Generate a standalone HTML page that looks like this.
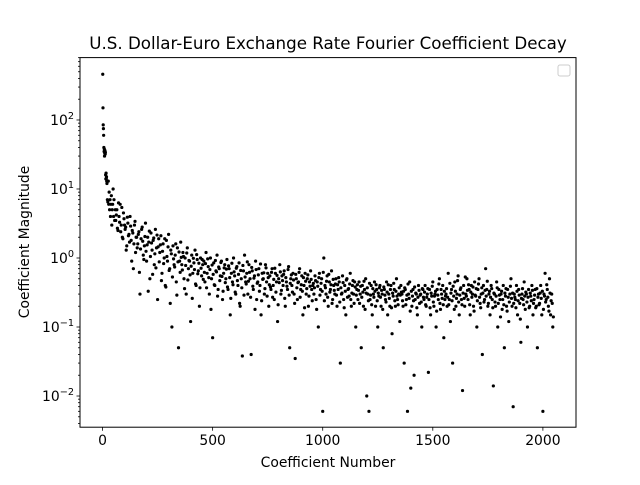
<!DOCTYPE html>
<html><head><meta charset="utf-8"><style>
body{margin:0;background:#fff}
svg text{font-family:"DejaVu Sans","Liberation Sans",sans-serif;fill:#000}
</style></head><body>
<svg id="chart" width="640" height="480" viewBox="0 0 640 480">
<rect width="640" height="480" fill="#fff"/>
<text x="328" y="49" font-size="16.7" text-anchor="middle">U.S. Dollar-Euro Exchange Rate Fourier Coefficient Decay</text>
<g id="points"></g>
<g id="axes"></g>
<rect x="80" y="57.6" width="496" height="369.6" fill="none" stroke="#000" stroke-width="1"/>
<rect x="558" y="65" width="12" height="11" rx="2" fill="#fff" stroke="#ccc"/>
<text x="328" y="467" font-size="13.9" text-anchor="middle">Coefficient Number</text>
<text transform="translate(29,242) rotate(-90)" font-size="13.9" text-anchor="middle">Coefficient Magnitude</text>
</svg>
<script>
const earlyIdx=[1,2,3,4,5,6,7,8,9,10,11,12,13,14,15,16,17,18,19,20,22,24,26,28,30,32,34,36,38,40,42,44,46,48,50,52,55,58];
const earlyMag=[460,150,85,75,60,40,35,38,30,33,36,32,34,16,14,17,14,15,13,12,7,6.5,13,6,9,5,7,4,6,8,3,5,6,10,4,7,3.5,5];
const mainMag=[
3.5,5,2.5,4,6,3,2,4.5,3,2.8,1.5,3.2,2.2,4,1.8,2.5,0.7,3,1.2,2,
1.6,2.4,0.3,1.9,2.8,1.1,1.5,3.2,0.9,2,1.7,0.5,2.3,1.3,1.8,0.8,2.6,1.4,0.25,1.9,
1.2,2.1,0.6,1.6,1.0,0.4,1.8,0.9,2.2,0.7,1.3,0.1,1.5,0.8,1.1,0.45,1.4,0.05,0.9,1.7,
0.8,1.2,0.5,1.0,0.3,1.4,0.7,0.9,0.12,1.1,0.6,0.85,1.3,0.4,0.95,0.65,0.2,1.0,0.55,0.8,
0.9,0.45,1.2,0.6,0.75,0.3,1.0,0.5,0.07,0.85,0.4,0.65,1.1,0.35,0.7,0.55,0.9,0.25,0.6,0.8,
0.5,0.95,0.35,0.7,0.15,0.6,0.45,1.0,0.55,0.3,0.75,0.4,0.85,0.2,0.5,0.038,0.65,1.1,0.45,0.6,
0.3,0.8,0.5,0.04,0.65,0.35,0.55,0.9,0.25,0.45,0.7,0.4,0.15,0.6,0.5,0.3,0.8,0.45,0.6,0.2,
0.55,0.35,0.7,0.4,0.25,0.6,0.45,0.12,0.5,0.8,0.3,0.55,0.4,0.65,0.2,0.45,0.35,0.75,0.05,0.5,
0.4,0.6,0.3,0.035,0.5,0.25,0.45,0.7,0.35,0.55,0.15,0.4,0.6,0.3,0.5,0.2,0.45,0.65,0.35,0.4,
0.3,0.55,0.25,0.45,0.1,0.6,0.35,0.5,0.006,1.0,0.4,0.3,0.55,0.2,0.45,0.35,0.65,0.25,0.4,0.3,
0.5,0.2,0.35,0.45,0.03,0.3,0.55,0.25,0.4,0.15,0.5,0.35,0.28,0.6,0.2,0.4,0.3,0.45,0.1,0.35,
0.25,0.45,0.3,0.05,0.4,0.2,0.35,0.5,0.01,0.3,0.006,0.25,0.4,0.15,0.3,0.45,0.2,0.35,0.1,0.28,
0.4,0.2,0.3,0.05,0.35,0.25,0.45,0.15,0.3,0.2,0.4,0.08,0.28,0.35,0.2,0.5,0.25,0.3,0.12,0.4,
0.3,0.2,0.03,0.35,0.25,0.006,0.3,0.45,0.013,0.2,0.35,0.02,0.25,0.3,0.15,0.4,0.22,0.3,0.1,0.35,
0.25,0.4,0.2,0.3,0.022,0.35,0.15,0.28,0.45,0.2,0.3,0.1,0.35,0.25,0.5,0.18,0.3,0.4,0.07,0.25,
0.3,0.2,0.6,0.25,0.12,0.35,0.03,0.28,0.45,0.2,0.3,0.55,0.15,0.35,0.25,0.012,0.4,0.2,0.3,0.5,
0.25,0.35,0.15,0.4,0.3,0.2,0.45,0.28,0.1,0.35,0.5,0.22,0.3,0.04,0.4,0.25,0.7,0.35,0.2,0.3,
0.15,0.4,0.25,0.014,0.3,0.2,0.45,0.1,0.35,0.25,0.3,0.18,0.4,0.05,0.28,0.2,0.35,0.12,0.3,0.5,
0.2,0.007,0.3,0.25,0.4,0.15,0.35,0.22,0.06,0.3,0.25,0.45,0.18,0.3,0.1,0.35,0.2,0.28,0.4,0.15,
0.25,0.35,0.2,0.05,0.3,0.22,0.4,0.15,0.006,0.3,0.6,0.25,0.35,0.2,0.5,0.15,0.3,0.1];
const fillMag=[
4.2,2.7,6.3,3.3,2.4,5.4,1.9,3.7,2.6,1.3,3.9,2.1,1.7,2.9,0.9,2.3,1.6,3.4,2.0,1.4,
2.2,0.62,1.35,2.6,1.75,0.95,2.05,1.25,1.55,0.33,2.45,1.05,1.65,0.58,1.95,1.15,0.72,2.15,1.45,0.88,
1.55,0.47,1.25,0.83,1.9,0.38,1.05,1.45,0.66,0.22,1.15,0.53,0.97,0.74,1.6,0.29,0.88,1.22,0.62,1.02,
0.67,1.05,0.36,0.78,1.18,0.48,0.92,0.57,0.76,0.26,0.99,0.68,0.42,1.12,0.59,0.84,0.37,0.71,0.95,0.49,
0.62,0.83,0.37,0.97,0.52,0.68,0.18,0.79,0.58,0.41,0.92,0.63,0.28,0.74,0.47,0.86,0.54,0.33,0.72,0.44,
0.69,0.38,0.77,0.52,0.26,0.84,0.41,0.63,0.32,0.71,0.47,0.58,0.22,0.66,0.37,0.78,0.29,0.53,0.42,0.88,
0.46,0.62,0.27,0.73,0.39,0.51,0.18,0.68,0.43,0.57,0.33,0.82,0.24,0.49,0.61,0.36,0.72,0.28,0.52,0.41,
0.38,0.62,0.27,0.49,0.71,0.32,0.56,0.21,0.44,0.63,0.34,0.47,0.58,0.26,0.52,0.39,0.68,0.29,0.43,0.57,
0.32,0.48,0.22,0.58,0.37,0.44,0.62,0.27,0.41,0.33,0.52,0.19,0.46,0.36,0.57,0.28,0.39,0.49,0.24,0.43,
0.37,0.47,0.18,0.39,0.52,0.29,0.43,0.33,0.62,0.24,0.37,0.46,0.27,0.58,0.32,0.41,0.22,0.49,0.34,0.42,
0.29,0.41,0.52,0.23,0.37,0.31,0.44,0.19,0.33,0.48,0.27,0.36,0.42,0.25,0.31,0.47,0.22,0.38,0.29,0.41,
0.34,0.22,0.39,0.27,0.32,0.46,0.18,0.31,0.37,0.24,0.43,0.29,0.21,0.36,0.27,0.33,0.41,0.24,0.31,0.37,
0.27,0.34,0.18,0.38,0.29,0.23,0.32,0.41,0.26,0.35,0.19,0.31,0.43,0.24,0.33,0.28,0.21,0.37,0.29,0.32,
0.24,0.33,0.37,0.21,0.29,0.42,0.26,0.17,0.33,0.28,0.24,0.38,0.31,0.19,0.27,0.34,0.29,0.23,0.36,0.27,
0.32,0.21,0.27,0.36,0.25,0.19,0.31,0.39,0.23,0.28,0.33,0.17,0.29,0.42,0.22,0.35,0.26,0.21,0.33,0.28,
0.36,0.27,0.21,0.43,0.31,0.24,0.39,0.18,0.33,0.26,0.47,0.23,0.29,0.37,0.21,0.31,0.26,0.53,0.28,0.34,
0.41,0.21,0.32,0.27,0.38,0.17,0.29,0.36,0.24,0.42,0.27,0.19,0.37,0.31,0.23,0.34,0.28,0.46,0.22,0.33,
0.27,0.36,0.19,0.31,0.23,0.28,0.37,0.22,0.29,0.14,0.33,0.25,0.21,0.31,0.36,0.17,0.27,0.23,0.39,0.26,
0.31,0.22,0.27,0.19,0.33,0.24,0.29,0.13,0.26,0.36,0.21,0.28,0.32,0.23,0.27,0.19,0.31,0.24,0.34,0.22,
0.29,0.19,0.36,0.27,0.21,0.31,0.26,0.33,0.18,0.28,0.23,0.41,0.27,0.17,0.31,0.24,0.22,0.14];
const mainStart=60, mainStep=5, fillStart=62.5;
const xTicks=[0,500,1000,1500,2000];
const yDecades=[-2,-1,0,1,2];

const NS="http://www.w3.org/2000/svg";
const L=80,R=576,T=57.6,B=427.2;
const xMin=-102.4,xMax=2150.4,lMin=-2.452,lMax=2.904;
const xs=v=>L+(v-xMin)/(xMax-xMin)*(R-L);
const ys=v=>B-(Math.log10(v)-lMin)/(lMax-lMin)*(B-T);
const pts=document.getElementById('points');
function dot(i,m){
  const c=document.createElementNS(NS,'circle');
  c.setAttribute('cx',xs(i));c.setAttribute('cy',ys(m));c.setAttribute('r',1.6);c.setAttribute('fill','#000');
  
  
  pts.appendChild(c);
}
earlyIdx.forEach((i,k)=>dot(i,earlyMag[k]));
mainMag.forEach((m,k)=>dot(mainStart+k*mainStep,m));
fillMag.forEach((m,k)=>dot(fillStart+k*mainStep,m));

const ax=document.getElementById('axes');
function line(x1,y1,x2,y2){const l=document.createElementNS(NS,'line');
l.setAttribute('x1',x1);l.setAttribute('y1',y1);l.setAttribute('x2',x2);l.setAttribute('y2',y2);l.setAttribute('stroke','#000');l.setAttribute('stroke-width','0.8');ax.appendChild(l);}
function txt(x,y,s,anchor,name){const t=document.createElementNS(NS,'text');
t.setAttribute('x',x);t.setAttribute('y',y);t.setAttribute('font-size','13.9');t.setAttribute('text-anchor',anchor);t.textContent=s;


ax.appendChild(t);return t;}
xTicks.forEach(v=>{const x=xs(v);line(x,B,x,B+3.5);txt(x,B+18,String(v),'middle','x-tick-label');});
yDecades.forEach(d=>{const y=ys(Math.pow(10,d));line(L-3.5,y,L,y);
 const t=txt(L-6,y+5,'10','end','y-tick-label');
 const s=document.createElementNS(NS,'tspan');s.setAttribute('font-size','9.7');s.setAttribute('dy','-6');s.textContent=String(d).replace('-','\u2212');t.appendChild(s);
});
for(let d=-3;d<=2;d++)for(let k=2;k<10;k++){const v=k*Math.pow(10,d);const y=ys(v);if(y>T&&y<B)line(L-2,y,L,y);}
</script>
</body></html>
